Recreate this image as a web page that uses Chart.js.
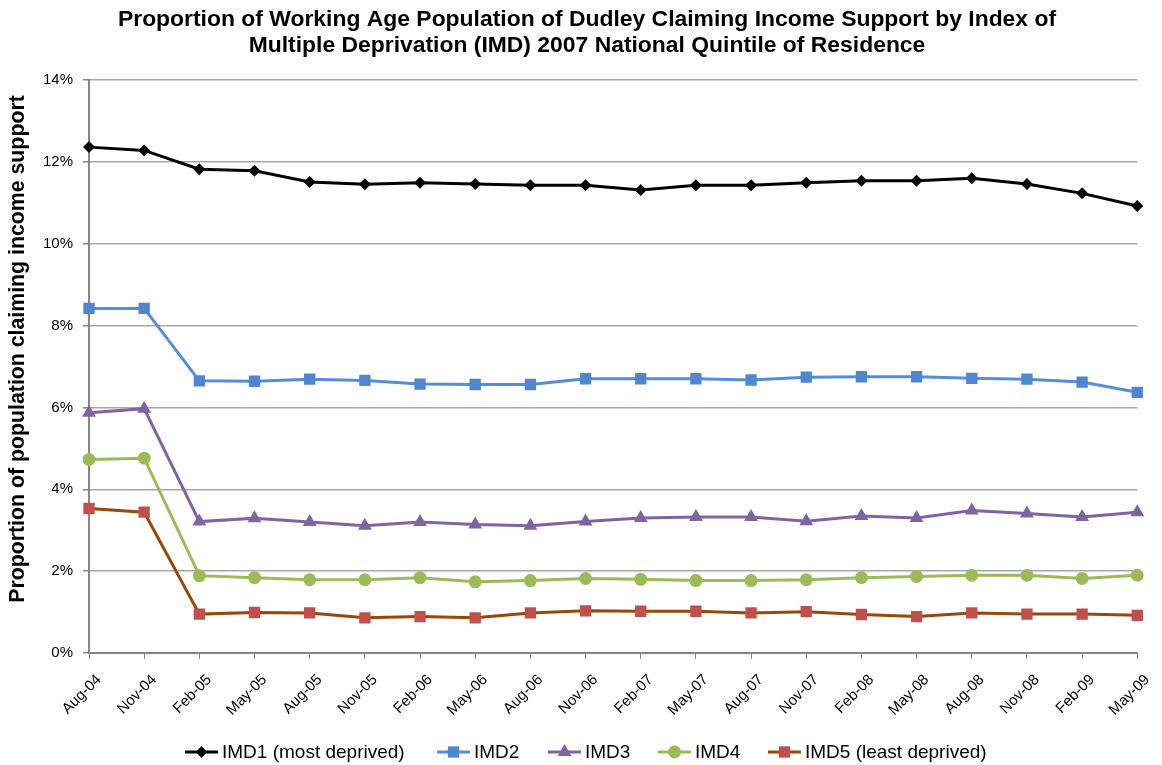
<!DOCTYPE html>
<html>
<head>
<meta charset="utf-8">
<title>Income Support by IMD Quintile</title>
<script src="https://cdn.jsdelivr.net/npm/chart.js@4.4.1/dist/chart.umd.min.js"></script>
<style>
    body { margin: 0; background: #fff; }
    canvas { display: block; }
</style>
</head>
<body>
<canvas id="chart" width="1162" height="765"></canvas>
<script>
// quarterly snapshots
const months = ["Aug-04", "Nov-04", "Feb-05", "May-05", "Aug-05", "Nov-05", "Feb-06", "May-06", "Aug-06", "Nov-06",
    "Feb-07", "May-07", "Aug-07", "Nov-07", "Feb-08", "May-08", "Aug-08", "Nov-08", "Feb-09", "May-09"];

// percentage of working age population claiming income support
const imd1 = [12.36, 12.28, 11.82, 11.78, 11.51, 11.45, 11.49, 11.46, 11.43, 11.43,
    11.31, 11.43, 11.43, 11.49, 11.54, 11.54, 11.60, 11.46, 11.23, 10.92];
const imd2 = [8.42, 8.42, 6.65, 6.64, 6.69, 6.66, 6.57, 6.56, 6.56, 6.70,
    6.70, 6.70, 6.67, 6.74, 6.75, 6.75, 6.71, 6.69, 6.62, 6.37];
const imd3 = [5.87, 5.97, 3.21, 3.29, 3.20, 3.11, 3.20, 3.14, 3.11, 3.21,
    3.30, 3.32, 3.32, 3.22, 3.35, 3.30, 3.48, 3.41, 3.32, 3.44];
const imd4 = [4.73, 4.76, 1.89, 1.84, 1.79, 1.79, 1.84, 1.74, 1.77, 1.82,
    1.80, 1.77, 1.77, 1.79, 1.84, 1.87, 1.90, 1.90, 1.82, 1.90];
const imd5 = [3.53, 3.44, 0.95, 0.99, 0.98, 0.86, 0.89, 0.86, 0.98, 1.03,
    1.02, 1.02, 0.98, 1.01, 0.94, 0.89, 0.98, 0.95, 0.95, 0.92];

const yTicks = [0, 2, 4, 6, 8, 10, 12, 14];

const titleLines = ["Proportion of Working Age Population of Dudley Claiming Income Support by Index of",
    "Multiple Deprivation (IMD) 2007 National Quintile of Residence"];
const yTitle = "Proportion of population claiming income support";

const FONT = "'Liberation Sans', Arial, sans-serif";

function series(label, data, line, marker, style, radius) {
    return {
        label: label,
        data: data,
        borderColor: line,
        borderWidth: 3,
        backgroundColor: marker,
        pointBackgroundColor: marker,
        pointBorderColor: marker,
        pointBorderWidth: 0,
        pointStyle: style,
        pointRadius: radius,
        tension: 0
    };
}

// two-line heading plus the rotated value-axis caption
const headings = {
    id: "headings",
    afterDraw(chart) {
        const ctx = chart.ctx;
        ctx.save();
        ctx.fillStyle = "#000";
        ctx.textAlign = "center";
        ctx.textBaseline = "middle";
        ctx.font = "bold 22.9px " + FONT;
        ctx.fillText(titleLines[0], 587, 20);
        ctx.fillText(titleLines[1], 587, 46);
        ctx.translate(18, 349);
        ctx.rotate(-Math.PI / 2);
        ctx.font = "bold 21.3px " + FONT;
        ctx.fillText(yTitle, 0, 0);
        ctx.restore();
    }
};

// legend under the axis: short line with the marker in the middle, then the name
const bottomLegend = {
    id: "bottomLegend",
    afterDraw(chart) {
        const ctx = chart.ctx;
        const y = 752;
        const slots = [185, 437, 548, 658, 768];
        ctx.save();
        ctx.font = "19px " + FONT;
        ctx.textBaseline = "middle";
        chart.data.datasets.forEach((ds, i) => {
            const x = slots[i];
            ctx.strokeStyle = ds.borderColor;
            ctx.lineWidth = ds.borderWidth;
            ctx.beginPath();
            ctx.moveTo(x, y);
            ctx.lineTo(x + 33, y);
            ctx.stroke();
            ctx.fillStyle = ds.pointBackgroundColor;
            ctx.strokeStyle = ds.pointBackgroundColor;
            Chart.helpers.drawPoint(ctx, {
                pointStyle: ds.pointStyle,
                radius: ds.pointRadius,
                rotation: 0,
                borderWidth: 0
            }, x + 16.5, y);
            ctx.fillStyle = "#000";
            ctx.fillText(ds.label, x + 37, y + 1);
        });
        ctx.restore();
    }
};

new Chart(document.getElementById("chart"), {
    type: "line",
    data: {
        labels: months,
        datasets: [
            series("IMD1 (most deprived)", imd1, "#000000", "#000000", "rectRot", 6),
            series("IMD2", imd2, "#558ED5", "#4F86D0", "rect", 8),
            series("IMD3", imd3, "#8064A2", "#8064A2", "triangle", 8),
            series("IMD4", imd4, "#9BBB59", "#9BBB59", "circle", 6.5),
            series("IMD5 (least deprived)", imd5, "#984807", "#C0504D", "rect", 8)
        ]
    },
    options: {
        responsive: false,
        animation: false,
        layout: { padding: { left: 0, right: 24, top: 80, bottom: 45 } },
        plugins: {
            legend: { display: false },
            tooltip: { enabled: false },
            title: { display: false }
        },
        scales: {
            x: {
                type: "category",
                offset: false,
                grid: {
                    drawOnChartArea: false,
                    color: "#868686",
                    tickLength: 6,
                    tickColor: "#868686"
                },
                border: { color: "#868686", width: 2 },
                ticks: {
                    color: "#000",
                    font: { family: FONT, size: 15 },
                    minRotation: 45,
                    maxRotation: 45,
                    autoSkip: false,
                    padding: 12,
                    labelOffset: 10
                },
                afterFit(scale) { scale.height = 67; }
            },
            y: {
                min: 0,
                max: 14,
                afterBuildTicks(scale) {
                    scale.ticks = yTicks.map(v => ({ value: v }));
                },
                grid: {
                    color: "#A6A6A6",
                    lineWidth: 1.5,
                    tickLength: 6,
                    tickColor: "#868686"
                },
                border: { color: "#868686", width: 2 },
                ticks: {
                    color: "#000",
                    font: { family: FONT, size: 15 },
                    padding: 10,
                    callback: v => v + "%"
                },
                afterFit(scale) { scale.width = 89; }
            }
        }
    },
    plugins: [headings, bottomLegend]
});
</script>
</body>
</html>
